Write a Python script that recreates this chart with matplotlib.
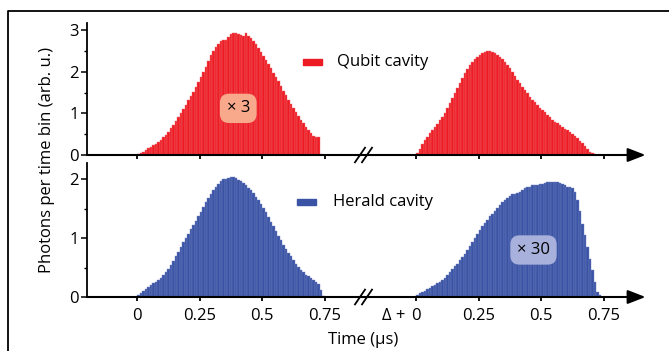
import numpy as np
import matplotlib
matplotlib.use("Agg")
import matplotlib.pyplot as plt
from matplotlib.lines import Line2D
from matplotlib.patches import Rectangle

plt.rcParams["font.family"] = ["Open Sans", "DejaVu Sans"]
plt.rcParams["font.size"] = 12

# bin width 10 ns, second window starts at time Delta (drawn after the axis break)
bin_w = 0.01
offset = 1.116

qubit_first = [0.02, 0.05, 0.08, 0.12, 0.16, 0.20, 0.24, 0.27, 0.31, 0.37,
               0.43, 0.49, 0.56, 0.64, 0.73, 0.82, 0.91, 1.01, 1.11, 1.21,
               1.31, 1.42, 1.52, 1.63, 1.75, 1.87, 1.99, 2.12, 2.26, 2.39,
               2.50, 2.59, 2.66, 2.74, 2.75, 2.76, 2.84, 2.90, 2.92, 2.93,
               2.91, 2.88, 2.86, 2.92, 2.85, 2.80, 2.73, 2.66, 2.58, 2.48,
               2.38, 2.28, 2.18, 2.08, 1.98, 1.88, 1.77, 1.65, 1.54, 1.43,
               1.32, 1.22, 1.12, 1.03, 0.93, 0.84, 0.76, 0.68, 0.60, 0.53,
               0.46, 0.44, 0.43, 0.03]

qubit_second = [0.06, 0.15, 0.26, 0.35, 0.44, 0.52, 0.59, 0.67, 0.75, 0.83,
                0.92, 1.02, 1.13, 1.24, 1.36, 1.48, 1.60, 1.72, 1.85, 1.97,
                2.07, 2.16, 2.24, 2.30, 2.35, 2.40, 2.44, 2.47, 2.49, 2.50,
                2.48, 2.45, 2.40, 2.35, 2.30, 2.24, 2.16, 2.08, 1.99, 1.90,
                1.81, 1.73, 1.64, 1.56, 1.48, 1.40, 1.33, 1.27, 1.20, 1.14,
                1.08, 1.03, 0.97, 0.91, 0.85, 0.80, 0.76, 0.71, 0.67, 0.63,
                0.59, 0.55, 0.50, 0.45, 0.40, 0.34, 0.28, 0.21, 0.14, 0.08,
                0.04, 0.02]

herald_first = [0.03, 0.07, 0.11, 0.14, 0.17, 0.20, 0.23, 0.26, 0.29, 0.33,
                0.37, 0.42, 0.48, 0.55, 0.62, 0.69, 0.77, 0.85, 0.93, 1.00,
                1.08, 1.15, 1.23, 1.30, 1.38, 1.45, 1.53, 1.61, 1.69, 1.76,
                1.82, 1.87, 1.92, 1.97, 2.00, 2.01, 2.02, 2.04, 2.05, 2.02,
                1.99, 1.97, 1.94, 1.90, 1.86, 1.82, 1.77, 1.71, 1.65, 1.59,
                1.52, 1.44, 1.36, 1.28, 1.20, 1.12, 1.04, 0.97, 0.89, 0.82,
                0.75, 0.69, 0.63, 0.57, 0.51, 0.46, 0.42, 0.38, 0.35, 0.32,
                0.29, 0.26, 0.22, 0.12, 0.02]

herald_second = [0.03, 0.06, 0.09, 0.11, 0.13, 0.15, 0.18, 0.21, 0.23, 0.26,
                 0.29, 0.33, 0.37, 0.42, 0.47, 0.52, 0.57, 0.63, 0.68, 0.74,
                 0.80, 0.87, 0.94, 1.01, 1.08, 1.14, 1.20, 1.26, 1.31, 1.37,
                 1.42, 1.47, 1.52, 1.57, 1.61, 1.65, 1.69, 1.72, 1.75, 1.76,
                 1.77, 1.79, 1.82, 1.85, 1.87, 1.88, 1.90, 1.91, 1.91, 1.92,
                 1.93, 1.94, 1.95, 1.96, 1.96, 1.96, 1.95, 1.94, 1.92, 1.90,
                 1.88, 1.87, 1.85, 1.78, 1.65, 1.46, 1.25, 1.05, 0.85, 0.65,
                 0.46, 0.26, 0.09, 0.03]

tick_pos = [0, 0.25, 0.5, 0.75]
tick_labels = ["0", "0.25", "0.5", "0.75"]

red = "#ED1C24"
red_edge = "#F26A6F"
blue = "#3A53A4"
blue_edge = "#7384C2"

W, H = 669, 351
fig = plt.figure(figsize=(W / 100, H / 100), dpi=100)

x_left, x_right = 87, 650
xmin = -0.2
xmax = xmin + (x_right - x_left) / 250.0


def make_axes(top_px, zero_px, ymax):
    ax = fig.add_axes([x_left / W, 1 - zero_px / H,
                       (x_right - x_left) / W, (zero_px - top_px) / H])
    ax.set_xlim(xmin, xmax)
    ax.set_ylim(0, ymax)
    for s in ["top", "right", "bottom"]:
        ax.spines[s].set_visible(False)
    ax.spines["left"].set_linewidth(1.3)
    ax.patch.set_alpha(0)
    ax.tick_params(axis="y", direction="out", length=4, width=1.1, pad=2)
    ax.tick_params(axis="y", which="minor", direction="out", length=2.5, width=1.0)
    ax.tick_params(axis="x", direction="out", length=3, width=1.3, pad=5)
    ax.set_xticks(tick_pos + [offset + t for t in tick_pos])
    # x axis as an arrow, with a break mark
    ax.annotate("", xy=(2.034, 0), xytext=(xmin, 0),
                xycoords="data", textcoords="data", annotation_clip=False,
                arrowprops=dict(arrowstyle="-|>,head_length=0.9,head_width=0.35",
                                color="black", lw=1.5, shrinkA=0, shrinkB=0))
    tr = ax.get_xaxis_transform()
    for xb in [0.892, 0.920]:
        ax.add_line(Line2D([xb - 0.02, xb + 0.02], [-0.055, 0.055],
                           transform=tr, color="black", lw=1.3, clip_on=False))
    return ax


def draw_bars(ax, values, start, color, edge):
    t = start + np.arange(len(values)) * bin_w
    ax.bar(t, values, width=bin_w, align="edge", color=color,
           edgecolor=edge, linewidth=0.3, zorder=2)


ax1 = make_axes(23, 155, 3.17)
ax2 = make_axes(163, 297, 2.28)

draw_bars(ax1, qubit_first, 0, red, red_edge)
draw_bars(ax1, qubit_second, offset, red, red_edge)
draw_bars(ax2, herald_first, 0, blue, blue_edge)
draw_bars(ax2, herald_second, offset, blue, blue_edge)

ax1.set_yticks([0, 1, 2, 3])
ax1.set_yticks([0.5, 1.5, 2.5], minor=True)
ax1.set_xticklabels([])
ax2.set_yticks([0, 1, 2])
ax2.set_yticks([0.5, 1.5], minor=True)
ax2.set_xticklabels(tick_labels + tick_labels)
ax2.annotate("\u0394 +", xy=(1.075, 0), xycoords="data",
             xytext=(0, -8), textcoords="offset points",
             ha="right", va="top", annotation_clip=False)

# legends drawn by hand
fig.add_artist(Rectangle((303 / W, 1 - 65 / H), 19 / W, 6 / H,
                         transform=fig.transFigure, color=red))
fig.text(337 / W, 1 - 62 / H, "Qubit cavity", ha="left", va="center")
fig.add_artist(Rectangle((297 / W, 1 - 205 / H), 19 / W, 6 / H,
                         transform=fig.transFigure, color=blue))
fig.text(333 / W, 1 - 202 / H, "Herald cavity", ha="left", va="center")

ax1.text(0.405, 1.12, "\u00d7 3", ha="center", va="center",
         bbox=dict(boxstyle="round,pad=0.4,rounding_size=0.55",
                   facecolor="#F8A98C", edgecolor="none"), zorder=5)
ax2.text(offset + 0.47, 0.8, "\u00d7 30", ha="center", va="center",
         bbox=dict(boxstyle="round,pad=0.4,rounding_size=0.55",
                   facecolor="#A8B0DC", edgecolor="none"), zorder=5)

fig.text(47 / W, 1 - 160 / H, "Photons per time bin (arb. u.)",
         rotation=90, ha="center", va="center")
fig.text(363 / W, 1 - 340 / H, "Time (\u00b5s)", ha="center", va="center")

# outer frame (cropped panel border)
fig.add_artist(Line2D([8 / W, 8 / W, 1], [0, 1 - 11 / H, 1 - 11 / H],
                      transform=fig.transFigure, color="black", lw=1.3))

fig.savefig("out.png", dpi=100)
